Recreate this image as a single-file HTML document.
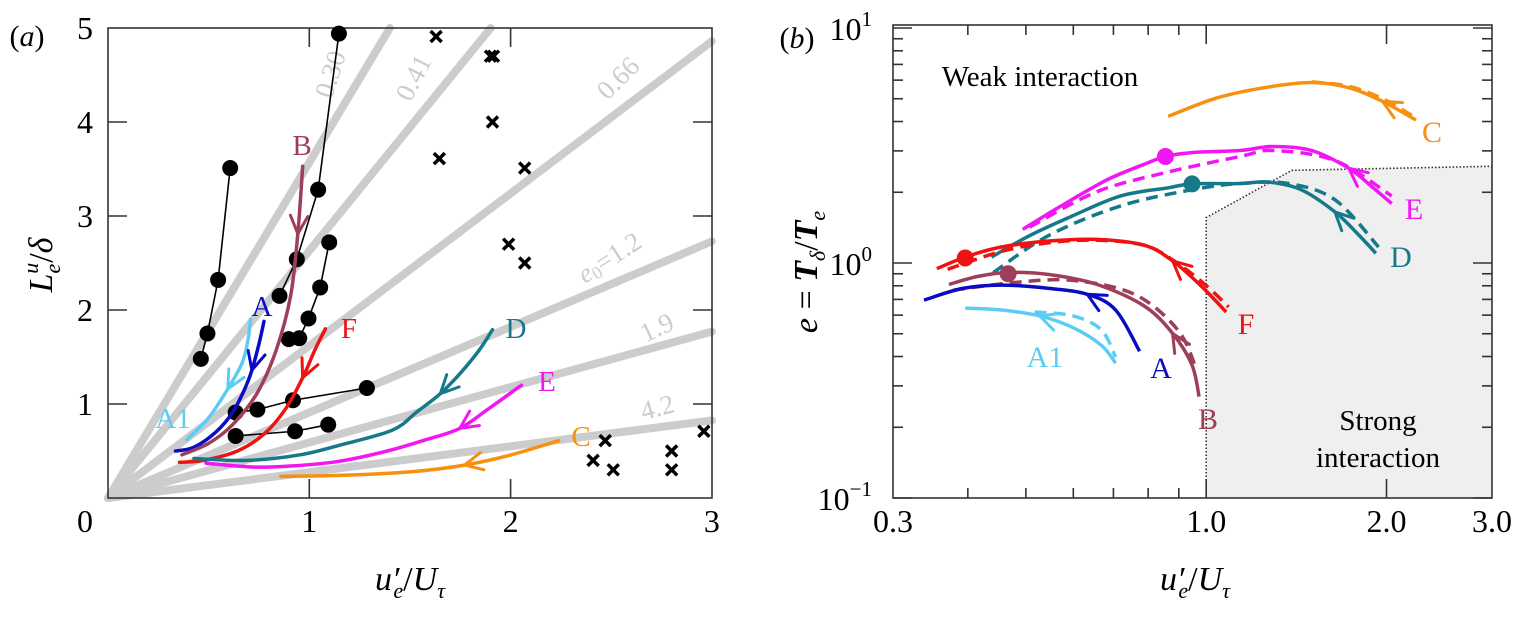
<!DOCTYPE html>
<html><head><meta charset="utf-8">
<style>
html,body{margin:0;padding:0;background:#fff;}
svg, svg text{font-family:"Liberation Serif","DejaVu Serif",serif;}
</style></head>
<body>
<svg id="fig" width="1520" height="614" viewBox="0 0 1520 614" xmlns="http://www.w3.org/2000/svg" font-family="Liberation Serif, DejaVu Serif, serif">
<g id="pa"></g>
<g id="pb"></g>
</svg>
<script>
// ---------- Panel (a) data ----------
const raySlopes = [3.57, 2.63, 1.62, 0.91, 0.59, 0.275];
const rayLabels = ["0.30", "0.41", "0.66", "e₀=1.2", "1.9", "4.2"];
const dotSeries1X = [0.607, 0.547, 0.494, 0.461];
const dotSeries1Y = [3.51, 2.32, 1.75, 1.48];
const dotSeries2X = [1.147, 1.044, 0.938, 0.852];
const dotSeries2Y = [4.94, 3.28, 2.54, 2.15];
const dotSeries3X = [1.099, 1.054, 0.996, 0.950, 0.898];
const dotSeries3Y = [2.72, 2.24, 1.91, 1.70, 1.69];
const dotSeries4X = [1.286, 0.919, 0.742, 0.634];
const dotSeries4Y = [1.17, 1.04, 0.94, 0.91];
const dotSeries5X = [1.094, 0.929, 0.634];
const dotSeries5Y = [0.78, 0.71, 0.66];
const crossX = [1.63, 1.90, 1.915, 1.91, 1.646, 2.07, 1.99, 2.07, 2.47, 2.41, 2.51, 2.80, 2.80, 2.96];
const crossY = [4.91, 4.70, 4.70, 4.00, 3.61, 3.51, 2.70, 2.50, 0.61, 0.40, 0.30, 0.50, 0.30, 0.71];
const aA1X = [0.391, 0.499, 0.595, 0.667, 0.696, 0.708];
const aA1Y = [0.62, 0.85, 1.16, 1.44, 1.69, 1.90];
const aAX = [0.336, 0.427, 0.535, 0.619, 0.679, 0.715, 0.751, 0.775];
const aAY = [0.50, 0.54, 0.70, 0.91, 1.16, 1.36, 1.65, 1.88];
const aBX = [0.367, 0.499, 0.619, 0.739, 0.835, 0.907, 0.943, 0.967];
const aBY = [0.46, 0.58, 0.78, 1.11, 1.57, 2.15, 2.81, 3.53];
const aFX = [0.355, 0.475, 0.643, 0.775, 0.883, 0.967, 1.027, 1.080];
const aFY = [0.38, 0.40, 0.50, 0.68, 0.95, 1.28, 1.57, 1.80];
const aDX = [0.427, 0.691, 0.955, 1.147, 1.411, 1.531, 1.651, 1.747, 1.843, 1.910];
const aDY = [0.42, 0.40, 0.46, 0.56, 0.72, 0.91, 1.11, 1.32, 1.57, 1.79];
const aEX = [0.487, 0.715, 0.907, 1.147, 1.387, 1.579, 1.747, 1.891, 2.054];
const aEY = [0.37, 0.33, 0.34, 0.39, 0.50, 0.62, 0.74, 0.95, 1.20];
const aCX = [0.859, 1.147, 1.507, 1.771, 1.987, 2.239];
const aCY = [0.23, 0.24, 0.28, 0.35, 0.45, 0.61];
const aXTicks = [0, 1, 2, 3];
const aYTicks = [1, 2, 3, 4, 5];

// ---------- Panel (b) data ----------
const bCX = [0.864, 1.04, 1.25, 1.50, 1.73, 1.97, 2.24];
const bCY = [4.21, 5.03, 5.57, 5.86, 5.57, 4.87, 4.06];
const bCdX = [1.50, 1.73, 1.97, 2.22];
const bCdY = [5.90, 5.65, 5.00, 4.20];
const bEX = [0.494, 0.566, 0.681, 0.788, 0.855, 0.947, 1.14, 1.29, 1.50, 1.73, 1.90, 2.04];
const bEY = [1.39, 1.72, 2.25, 2.63, 2.84, 2.95, 3.01, 3.13, 3.01, 2.53, 2.09, 1.79];
const bEdX = [0.507, 0.657, 0.864, 1.14, 1.29, 1.64, 2.04];
const bEdY = [1.42, 2.01, 2.44, 2.84, 3.01, 2.73, 1.93];
const bDX = [0.438, 0.508, 0.599, 0.72, 0.864, 0.947, 1.14, 1.27, 1.44, 1.64, 1.80, 1.92];
const bDY = [1.06, 1.31, 1.59, 1.93, 2.09, 2.17, 2.18, 2.21, 2.05, 1.65, 1.31, 1.10];
const bDdX = [0.441, 0.546, 0.72, 0.947, 1.14, 1.37, 1.64, 1.94];
const bDdY = [0.91, 1.31, 1.75, 2.05, 2.18, 2.18, 1.86, 1.17];
const bFX = [0.355, 0.396, 0.455, 0.546, 0.657, 0.788, 0.879, 0.982, 1.08];
const bFY = [0.946, 1.06, 1.17, 1.24, 1.26, 1.19, 1.02, 0.796, 0.619];
const bFdX = [0.370, 0.455, 0.546, 0.657, 0.788, 0.879, 0.990, 1.09];
const bFdY = [0.94, 1.12, 1.22, 1.25, 1.19, 1.03, 0.82, 0.65];
const bBX = [0.372, 0.415, 0.467, 0.546, 0.657, 0.788, 0.879, 0.947, 0.973];
const bBY = [0.811, 0.876, 0.911, 0.893, 0.811, 0.656, 0.501, 0.368, 0.270];
const bBdX = [0.378, 0.480, 0.599, 0.759, 0.896, 0.963];
const bBdY = [0.766, 0.827, 0.843, 0.736, 0.520, 0.354];
const bAX = [0.338, 0.392, 0.455, 0.546, 0.633, 0.706, 0.774];
const bAY = [0.695, 0.780, 0.805, 0.780, 0.736, 0.631, 0.421];
const bA1X = [0.396, 0.455, 0.527, 0.599, 0.668, 0.706];
const bA1Y = [0.643, 0.631, 0.596, 0.531, 0.447, 0.375];
const bA1dX = [0.517, 0.599, 0.668, 0.706];
const bA1dY = [0.619, 0.596, 0.520, 0.398];
const regionX = [1.0, 1.0, 1.39, 3.0, 3.0];
const regionY = [0.1, 1.56, 2.48, 2.58, 0.1];
const bXTicks = [0.3, 1.0, 2.0, 3.0];
const bXTickLabels = ["0.3", "1.0", "2.0", "3.0"];
const bYTickExp = [-1, 0, 1];

// ---------- helpers ----------
const NS = "http://www.w3.org/2000/svg";
const FONT = "Liberation Serif, DejaVu Serif, serif";
function mk(parent, tag, attrs, text) {
  const e = document.createElementNS(NS, tag);
  for (const k in attrs) e.setAttribute(k, attrs[k]);
  if (tag === "text") e.setAttribute("font-family", FONT);
  if (text !== undefined) e.textContent = text;
  parent.appendChild(e);
  return e;
}
function smoothPath(pts) {
  let d = "M" + pts[0][0].toFixed(1) + "," + pts[0][1].toFixed(1);
  for (let i = 0; i < pts.length - 1; i++) {
    const p0 = pts[Math.max(0, i - 1)], p1 = pts[i], p2 = pts[i + 1], p3 = pts[Math.min(pts.length - 1, i + 2)];
    const c1 = [p1[0] + (p2[0] - p0[0]) / 6, p1[1] + (p2[1] - p0[1]) / 6];
    const c2 = [p2[0] - (p3[0] - p1[0]) / 6, p2[1] - (p3[1] - p1[1]) / 6];
    d += " C" + c1[0].toFixed(1) + "," + c1[1].toFixed(1) + " " + c2[0].toFixed(1) + "," + c2[1].toFixed(1) + " " + p2[0].toFixed(1) + "," + p2[1].toFixed(1);
  }
  return d;
}
function arrowAt(parent, pts, idx, color, w) {
  const p = pts[idx], q = pts[idx + 1];
  let dx = p[0] - q[0], dy = p[1] - q[1];
  const L = Math.hypot(dx, dy) || 1; dx /= L; dy /= L;
  const len = 20, ang = 0.45;
  const pts2 = [];
  for (const s of [-1, 1]) {
    const c = Math.cos(s * ang), sn = Math.sin(s * ang);
    const bx = -(dx * c - dy * sn), by = -(dx * sn + dy * c);
    pts2.push([p[0] + bx * len, p[1] + by * len]);
  }
  const a = mk(parent, "polyline", {points: pts2[0].join(",") + " " + p.join(",") + " " + pts2[1].join(","), fill: "none", stroke: color, "stroke-width": w - 0.5, "stroke-linecap": "round", "stroke-linejoin": "round"});
  
  
}

// ---------- Panel (a) ----------
const pa = document.getElementById("pa");
const aL = 108, aR = 712, aT = 28, aB = 498;
const aX = v => aL + 201.3 * v;
const aY = v => aB - 94 * v;

raySlopes.forEach((s, i) => {
  const xe = Math.min(3, 5 / s);
  const r = mk(pa, "line", {x1: aX(0), y1: aY(0), x2: aX(xe), y2: aY(s * xe), stroke: "#cccccc", "stroke-width": 8, "stroke-linecap": "round"});
  
  
});
const rayLabelPos = [[333, 75, -72], [416, 79, -63], [620, 80, -45], [611, 260, -33], [658, 330, -25], [658, 410, -15]];
rayLabels.forEach((t, i) => {
  const p = rayLabelPos[i];
  const e = mk(pa, "text", {x: p[0], y: p[1], "text-anchor": "middle", "dominant-baseline": "middle", fill: "#cccccc", "font-size": 27, transform: "rotate(" + p[2] + " " + p[0] + " " + p[1] + ")"}, t);
  if (i === 3) { e.textContent = ""; mk(e, "tspan", {"font-style": "italic"}, "e"); mk(e, "tspan", {"font-size": 18, dy: 5}, "0"); mk(e, "tspan", {dy: -5}, "=1.2"); }
  
  
});

const frameA = mk(pa, "rect", {x: aL, y: aT, width: aR - aL, height: aB - aT, fill: "none", stroke: "#333", "stroke-width": 1.6});


aYTicks.forEach(v => {
  if (v < 5) {
    mk(pa, "line", {x1: aL, y1: aY(v), x2: aL + 19, y2: aY(v), stroke: "#333", "stroke-width": 1.6});
    mk(pa, "line", {x1: aR, y1: aY(v), x2: aR - 19, y2: aY(v), stroke: "#333", "stroke-width": 1.6});
  }
  const t = mk(pa, "text", {x: 93, y: aY(v) + 11, "text-anchor": "end", "font-size": 32}, String(v));
  
  
});
aXTicks.forEach(v => {
  if (v > 0 && v < 3) {
    mk(pa, "line", {x1: aX(v), y1: aB, x2: aX(v), y2: aB - 19, stroke: "#333", "stroke-width": 1.6});
    mk(pa, "line", {x1: aX(v), y1: aT, x2: aX(v), y2: aT + 19, stroke: "#333", "stroke-width": 1.6});
  }
  const t = mk(pa, "text", {x: v === 0 ? 85 : aX(v), y: 532, "text-anchor": "middle", "font-size": 32}, String(v));
  
  
});

[[dotSeries1X, dotSeries1Y], [dotSeries2X, dotSeries2Y], [dotSeries3X, dotSeries3Y], [dotSeries4X, dotSeries4Y], [dotSeries5X, dotSeries5Y]].forEach((s, k) => {
  const pts = s[0].map((x, i) => aX(x) + "," + aY(s[1][i])).join(" ");
  const l = mk(pa, "polyline", {points: pts, fill: "none", stroke: "#000", "stroke-width": 1.6});
  
  
  s[0].forEach((x, i) => {
    const c = mk(pa, "circle", {cx: aX(x), cy: aY(s[1][i]), r: 8, fill: "#000"});
    
    
  });
});
crossX.forEach((x, i) => {
  const cx = aX(x), cy = aY(crossY[i]), h = 5.5;
  const g = mk(pa, "path", {d: `M${cx - h},${cy - h}L${cx + h},${cy + h}M${cx - h},${cy + h}L${cx + h},${cy - h}`, stroke: "#000", "stroke-width": 3.5});
  
  
});

const aCurves = [
  ["A1", aA1X, aA1Y, "#5ccdf2", 2], ["A", aAX, aAY, "#0b0bc4", 5], ["B", aBX, aBY, "#9e3f5a", 6],
  ["F", aFX, aFY, "#f01212", 5], ["D", aDX, aDY, "#16798a", 6], ["E", aEX, aEY, "#f216f2", 6], ["C", aCX, aCY, "#f7900f", 3]
];
aCurves.forEach(c => {
  const pts = c[1].map((x, i) => [aX(x), aY(c[2][i])]);
  const p = mk(pa, "path", {d: smoothPath(pts), fill: "none", stroke: c[3], "stroke-width": 3.5, "stroke-linecap": "round"});
  
  
  arrowAt(pa, pts, c[4], c[3], 3.5);
});
const aLabels = [["B", 302, 145, "#9e3f5a"], ["A", 262, 306, "#0b0bc4"], ["F", 349, 328, "#f01212"], ["A1", 173, 418, "#5ccdf2"], ["D", 516, 328, "#16798a"], ["E", 547, 381, "#f216f2"], ["C", 581, 436, "#f7900f"]];
aLabels.forEach(l => {
  const t = mk(pa, "text", {x: l[1], y: l[2] + 10, "text-anchor": "middle", fill: l[3], "font-size": 29}, l[0]);
  
  
});

const pla = mk(pa, "text", {x: 27, y: 46, "text-anchor": "middle", "font-size": 30}, "");
mk(pla, "tspan", {}, "("); mk(pla, "tspan", {"font-style": "italic"}, "a"); mk(pla, "tspan", {}, ")");



const yta = mk(pa, "text", {x: 0, y: 0, "text-anchor": "middle", "font-size": 34, "font-style": "italic", transform: "translate(52,265) rotate(-90)"}, "");
mk(yta, "tspan", {}, "L");
mk(yta, "tspan", {"font-size": 22, dy: 8}, "e");
mk(yta, "tspan", {"font-size": 22, dy: -22, dx: -10}, "u");
mk(yta, "tspan", {dy: 14, "font-style": "normal"}, "/");
mk(yta, "tspan", {}, "δ");



function xTitle(parent, cx, name) {
  const t = mk(parent, "text", {x: cx, y: 590, "text-anchor": "middle", "font-size": 34, "font-style": "italic"}, "");
  mk(t, "tspan", {}, "u′");
  mk(t, "tspan", {"font-size": 22, dy: 8, dx: -6}, "e");
  mk(t, "tspan", {dy: -8, "font-style": "normal"}, "/");
  mk(t, "tspan", {}, "U");
  mk(t, "tspan", {"font-size": 22, dy: 8}, "τ");
  
  
}
xTitle(pa, 410, 'x-axis-title-a');

// ---------- Panel (b) ----------
const pb = document.getElementById("pb");
const bL = 893, bR = 1492, bT = 25, bB = 498;
const bX = v => bL + 599 * Math.log10(v / 0.3);
const bY = v => 263 - 235 * Math.log10(v);

const reg = mk(pb, "polygon", {points: regionX.map((x, i) => bX(x) + "," + bY(regionY[i])).join(" "), fill: "#efefef", stroke: "none"});


const regB = mk(pb, "polyline", {points: regionX.slice(0, 4).map((x, i) => bX(x) + "," + bY(regionY[i])).join(" "), fill: "none", stroke: "#333", "stroke-width": 1.6, "stroke-dasharray": "1.5,2"});



const frameB = mk(pb, "rect", {x: bL, y: bT, width: bR - bL, height: bB - bT, fill: "none", stroke: "#333", "stroke-width": 1.6});


for (let e = -1; e <= 1; e++) {
  for (let m = 1; m <= 9; m++) {
    const v = m * Math.pow(10, e);
    if (v > 10.5 || v < 0.1) continue;
    const y = bY(v), len = m === 1 ? 19 : 10;
    if (y < bT || y > bB) continue;
    mk(pb, "line", {x1: bL, y1: y, x2: bL + len, y2: y, stroke: "#333", "stroke-width": 1.6});
    mk(pb, "line", {x1: bR, y1: y, x2: bR - len, y2: y, stroke: "#333", "stroke-width": 1.6});
  }
}
bYTickExp.forEach(e => {
  const t = mk(pb, "text", {x: 872, y: bY(Math.pow(10, e)) + 12, "text-anchor": "end", "font-size": 32}, "");
  mk(t, "tspan", {}, "10");
  mk(t, "tspan", {"font-size": 21, dy: -14}, e < 0 ? "−1" : String(e));
  
  
});
[0.4, 0.5, 0.6, 0.7, 0.8, 0.9, 1, 2].forEach(v => {
  const len = (v === 1 || v === 2) ? 19 : 10;
  mk(pb, "line", {x1: bX(v), y1: bB, x2: bX(v), y2: bB - len, stroke: "#333", "stroke-width": 1.6});
  mk(pb, "line", {x1: bX(v), y1: bT, x2: bX(v), y2: bT + len, stroke: "#333", "stroke-width": 1.6});
});
bXTicks.forEach((v, i) => {
  const t = mk(pb, "text", {x: Math.min(bX(v), 1494), y: 532, "text-anchor": "middle", "font-size": 32}, bXTickLabels[i]);
  
  
});

const bCurves = [
  ["c", bCX, bCY, "#f7900f", false, 5], ["c-dashed", bCdX, bCdY, "#f7900f", true, -1],
  ["e", bEX, bEY, "#f216f2", false, 9], ["e-dashed", bEdX, bEdY, "#f216f2", true, -1],
  ["d", bDX, bDY, "#16798a", false, 9], ["d-dashed", bDdX, bDdY, "#16798a", true, -1],
  ["f", bFX, bFY, "#f01212", false, 6], ["f-dashed", bFdX, bFdY, "#f01212", true, -1],
  ["b", bBX, bBY, "#9e3f5a", false, 6], ["b-dashed", bBdX, bBdY, "#9e3f5a", true, -1],
  ["a", bAX, bAY, "#0b0bc4", false, 4], ["a1", bA1X, bA1Y, "#5ccdf2", false, 2], ["a1-dashed", bA1dX, bA1dY, "#5ccdf2", true, -1]
];
bCurves.forEach(c => {
  const pts = c[1].map((x, i) => [bX(x), bY(c[2][i])]);
  const attrs = {d: smoothPath(pts), fill: "none", stroke: c[3], "stroke-width": 3.5};
  if (c[4]) attrs["stroke-dasharray"] = "12,7";
  const p = mk(pb, "path", attrs);
  
  
  if (c[5] >= 0) arrowAt(pb, pts, c[5], c[3], 3.5);
});
const bDots = [[0.855, 2.84, "#f216f2"], [0.947, 2.17, "#16798a"], [0.396, 1.05, "#f01212"], [0.467, 0.90, "#9e3f5a"]];
bDots.forEach(d => {
  const c = mk(pb, "circle", {cx: bX(d[0]), cy: bY(d[1]), r: 8.5, fill: d[2]});
  
  
});
const bLabels = [["C", 1432, 132, "#f7900f"], ["E", 1414, 209, "#f216f2"], ["D", 1401, 257, "#16798a"], ["F", 1246, 324, "#f01212"], ["A", 1161, 368, "#0b0bc4"], ["A1", 1045, 357, "#5ccdf2"], ["B", 1208, 419, "#9e3f5a"]];
bLabels.forEach(l => {
  const t = mk(pb, "text", {x: l[1], y: l[2] + 10, "text-anchor": "middle", fill: l[3], "font-size": 30}, l[0]);
  
  
});
const weak = mk(pb, "text", {x: 1040, y: 86, "text-anchor": "middle", "font-size": 29}, "Weak interaction");


const strong1 = mk(pb, "text", {x: 1378, y: 430, "text-anchor": "middle", "font-size": 29}, "Strong");


const strong2 = mk(pb, "text", {x: 1378, y: 467, "text-anchor": "middle", "font-size": 29}, "interaction");



const plb = mk(pb, "text", {x: 797, y: 48, "text-anchor": "middle", "font-size": 30}, "");
mk(plb, "tspan", {}, "("); mk(plb, "tspan", {"font-style": "italic"}, "b"); mk(plb, "tspan", {}, ")");



const ytb = mk(pb, "text", {x: 0, y: 0, "text-anchor": "middle", "font-size": 34, "font-style": "italic", transform: "translate(817,272) rotate(-90)"}, "");
mk(ytb, "tspan", {}, "e");
mk(ytb, "tspan", {"font-style": "normal"}, " = ");
mk(ytb, "tspan", {"font-weight": "bold"}, "T");
mk(ytb, "tspan", {"font-size": 22, dy: 8}, "δ");
mk(ytb, "tspan", {dy: -8, "font-style": "normal"}, "/");
mk(ytb, "tspan", {"font-weight": "bold"}, "T");
mk(ytb, "tspan", {"font-size": 22, dy: 8}, "e");



xTitle(pb, 1195, 'x-axis-title-b');
</script>
</body></html>
